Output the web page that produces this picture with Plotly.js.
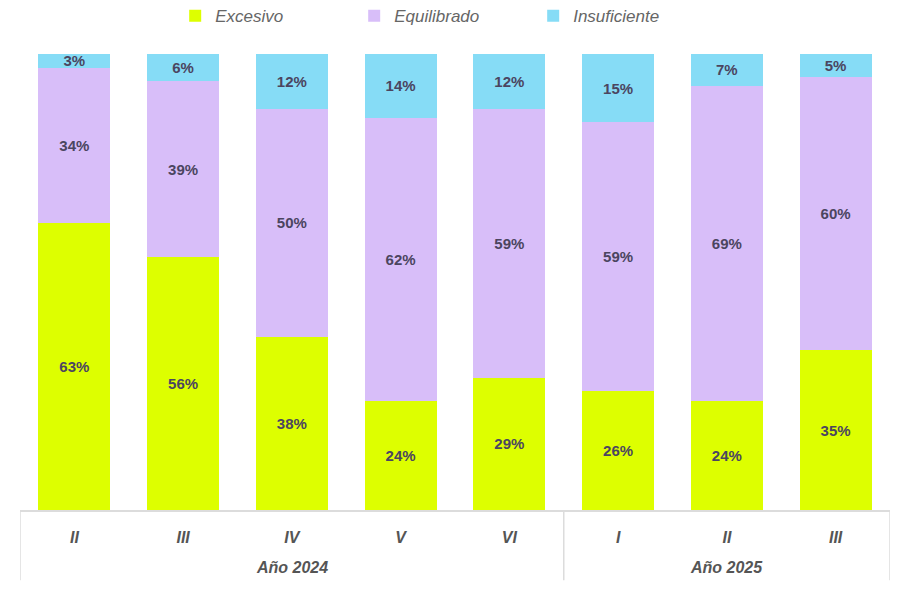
<!DOCTYPE html>
<html><head><meta charset="utf-8">
<script src="https://cdn.plot.ly/plotly-3.0.1.min.js"></script>
<style>html,body{margin:0;padding:0;background:#fff}#chart{width:912px;height:613px}</style>
</head><body><div id="chart"></div>
<script>
const years = ["Año 2024","Año 2024","Año 2024","Año 2024","Año 2024","Año 2025","Año 2025","Año 2025"];
const periods = ["II","III","IV","V","VI","I","II","III"];
const excesivo = [63,56,38,24,29,26,24,35];
const equilibrado = [34,39,50,62,59,59,69,60];
const insuficiente = [3,6,12,14,12,15,7,5];

const cats = years.map((y,i)=>y+" "+periods[i]);
const fam = "Liberation Sans, Arial, sans-serif";
const labelFont = {family:fam, size:15, color:"#4b4560", weight:"bold"};
function mk(name, vals, color){
  return {type:"bar", name:name, x:cats, y:vals,
    marker:{color:color, line:{width:0}},
    text: vals.map(v=>v+"%"), textposition:"inside", insidetextanchor:"middle",
    constraintext:"none", textfont:labelFont, hoverinfo:"none"};
}
const data = [
  mk("Excesivo", excesivo, "#DDFF00"),
  mk("Equilibrado", equilibrado, "#D8BEF9"),
  mk("Insuficiente", insuficiente, "#86DCF6")
];

const groups = [];
years.forEach((y,i)=>{
  if(!groups.length || groups[groups.length-1].name!==y) groups.push({name:y,start:i,end:i});
  else groups[groups.length-1].end=i;
});
const lineStyle = {color:"#dcdcdc", width:1.5};
const shapes = [];
const bounds = [-0.5].concat(groups.map(g=>g.end+0.5));
bounds.forEach(b=>shapes.push({type:"line", xref:"x", yref:"paper", x0:b, x1:b, y0:0, y1:-0.154, line:lineStyle}));
const annotations = groups.map(g=>({xref:"x", yref:"paper", x:(g.start+g.end)/2, y:-0.127, yanchor:"middle",
  text:g.name, showarrow:false, font:{family:fam, size:16, color:"#555", style:"italic", weight:"bold"}}));

const layout = {
  width:912, height:613,
  margin:{l:20, r:22, t:54, b:103, autoexpand:false},
  barmode:"stack", barnorm:"percent", bargap:0.34,
  paper_bgcolor:"#fff", plot_bgcolor:"#fff",
  showlegend:true,
  legend:{orientation:"h", x:0.487, xanchor:"center", y:1.083, yanchor:"middle",
    font:{family:fam, size:17, color:"#666", style:"italic"},
    itemwidth:30, traceorder:"normal", entrywidth:134},
  xaxis:{type:"category", showline:true, linecolor:"#dcdcdc", linewidth:1.5,
    tickvals:cats, ticktext:periods, ticklabelstandoff:12,
    tickfont:{family:fam, size:16, color:"#555", style:"italic", weight:"bold"},
    ticks:"", showgrid:false, zeroline:false, range:[-0.5, 7.5]},
  yaxis:{range:[0,100], visible:false, showgrid:false, zeroline:false},
  shapes:shapes, annotations:annotations
};
Plotly.newPlot("chart", data, layout, {displayModeBar:false, staticPlot:true});
</script></body></html>
